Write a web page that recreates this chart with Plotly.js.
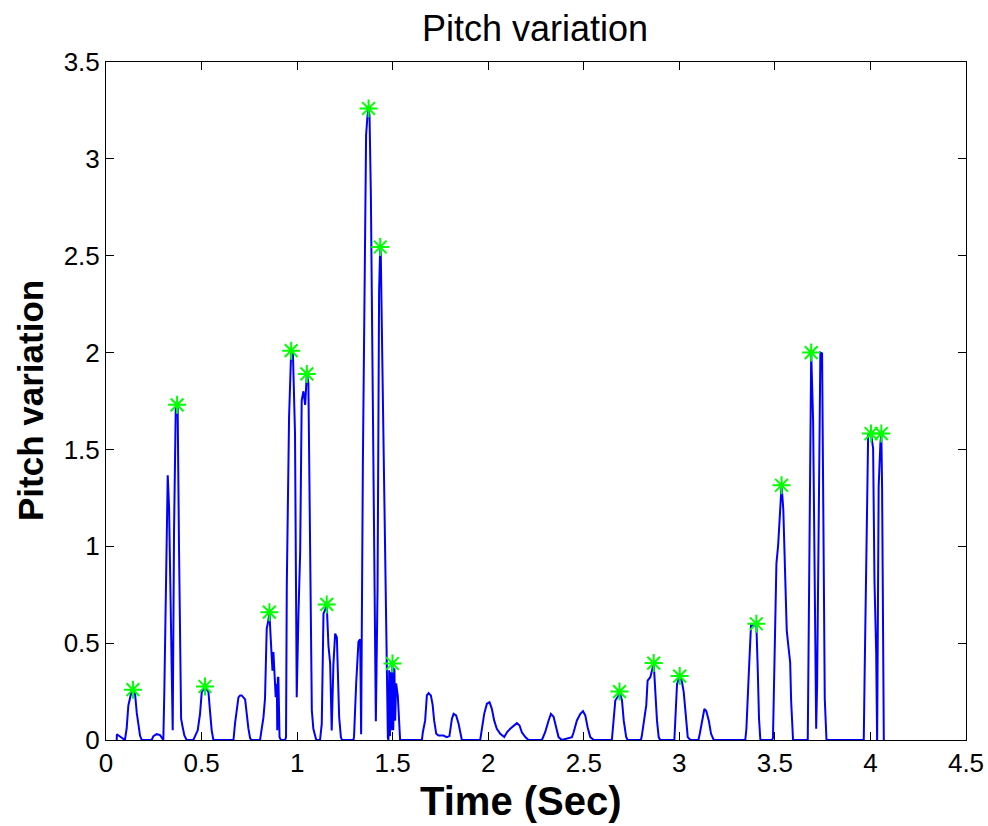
<!DOCTYPE html>
<html>
<head>
<meta charset="utf-8">
<script src="https://cdn.plot.ly/plotly-3.0.1.min.js"></script>
<style>html,body{margin:0;padding:0;background:#fff;}#chart{width:988px;height:826px;}</style>
</head>
<body>
<div id="chart"></div>
<script>
// Pitch variation signal (time in seconds, value)
var timeSec = [
  0.056,0.057,0.099,0.108,0.117,0.131,0.141,0.152,0.161,0.169,0.178,0.187,0.239,0.248,0.265,0.283,0.300,
  0.305,0.314,0.323,0.330,0.335,0.344,0.349,0.356,0.365,0.372,0.375,0.382,0.393,0.401,0.410,0.422,
  0.457,0.466,0.480,0.492,0.501,0.518,0.536,0.544,0.553,0.562,
  0.667,0.675,0.693,0.702,0.710,0.728,0.736,0.745,0.754,0.760,
  0.806,0.815,0.824,0.832,0.841,0.850,0.855,0.862,0.871,0.876,0.881,0.888,0.894,0.896,0.899,0.902,0.908,0.915,
  0.937,0.942,0.946,0.958,0.969,0.978,0.989,0.998,1.007,1.016,1.024,1.033,1.042,1.051,1.059,1.068,1.077,1.085,1.094,1.100,
  1.120,1.129,1.138,1.146,1.155,1.164,1.173,1.181,1.190,1.199,1.208,1.213,1.220,1.229,1.235,
  1.295,1.298,1.309,1.321,1.330,1.335,1.344,1.352,1.361,1.368,1.374,1.379,1.386,1.394,1.403,1.412,1.421,1.429,1.435,1.438,1.447,1.457,1.466,1.475,
  1.478,1.482,1.486,1.490,1.494,1.499,1.503,1.509,1.513,1.518,1.527,1.534,1.539,
  1.653,1.658,1.670,1.679,1.688,1.700,1.709,1.717,1.728,1.740,1.766,1.783,1.797,1.801,1.810,1.819,1.832,1.845,1.857,1.862,
  1.958,1.967,1.979,1.993,2.007,2.019,2.031,2.045,2.063,2.084,2.098,2.115,2.133,2.150,2.164,2.176,2.194,2.211,
  2.281,2.298,2.316,2.328,2.342,2.354,2.368,2.385,2.438,2.447,2.464,2.482,2.496,2.508,2.520,2.534,2.552,
  2.647,2.656,2.665,2.682,2.687,2.700,2.709,2.722,2.730,
  2.799,2.804,2.813,2.827,2.834,2.848,2.857,2.866,2.874,2.883,2.892,2.900,
  2.974,2.979,2.988,3.002,3.014,3.023,3.035,3.044,3.058,
  3.100,3.107,3.118,3.131,3.141,3.154,3.166,3.180,
  3.345,3.351,3.363,3.375,3.394,3.403,3.410,3.417,3.424,
  3.485,3.490,3.499,3.508,3.517,3.526,3.535,3.544,3.553,3.562,3.571,3.580,3.585,3.595,
  3.672,3.677,3.686,3.690,3.700,3.709,3.716,3.721,3.730,3.738,3.747,3.752,3.761,3.770,
  3.965,3.970,3.979,3.988,4.003,4.014,4.021,4.030,4.035,4.043,4.052,4.057,4.061,4.066,4.070
];
var pitchValue = [
  0,0.03,0,0.058,0.178,0.239,0.26,0.239,0.14,0.075,0.023,0,0,0.02,0.03,0.025,0,
  0.24,0.936,1.367,1.20,0.943,0.45,0.05,1.083,1.71,1.73,1.71,0.996,0.11,0.067,0.023,0,
  0,0.02,0.05,0.135,0.247,0.276,0.247,0.153,0.05,0,
  0,0.084,0.22,0.23,0.23,0.21,0.135,0.06,0.01,0,
  0,0.058,0.118,0.213,0.575,0.618,0.66,0.523,0.358,0.454,0.358,0.221,0.29,0.05,0.32,0.325,0.015,0,
  0,0.015,0.80,1.67,2.01,2.0,1.582,0.221,0.652,0.97,1.754,1.80,1.73,1.89,1.84,1.083,0.153,0.058,0.015,0,
  0,0.083,0.652,0.67,0.70,0.488,0.394,0.049,0.39,0.549,0.53,0.39,0.118,0.015,0,
  0,0.02,0.29,0.508,0.52,0.03,1.415,2.313,3.123,3.22,3.26,3.22,2.81,1.977,1.156,0.097,0.789,2.323,2.545,2.496,1.88,1.221,0.475,0.01,
  0,0.36,0.02,0.35,0.05,0.395,0.05,0.37,0.10,0.292,0.227,0.054,0,
  0,0.04,0.101,0.230,0.242,0.230,0.183,0.101,0.032,0.023,0.023,0.015,0.02,0.058,0.110,0.135,0.127,0.084,0.015,0,
  0,0.058,0.135,0.187,0.195,0.161,0.101,0.058,0.032,0.015,0.04,0.058,0.075,0.087,0.075,0.04,0.015,0,
  0,0.04,0.101,0.135,0.12,0.066,0.015,0,0.015,0.04,0.101,0.135,0.149,0.127,0.066,0.015,0,
  0,0.084,0.204,0.23,0.25,0.204,0.101,0.015,0,
  0,0.023,0.084,0.18,0.307,0.324,0.359,0.397,0.256,0.101,0.015,0,
  0,0.101,0.29,0.33,0.299,0.247,0.101,0.015,0,
  0,0.032,0.101,0.16,0.15,0.101,0.032,0,
  0,0.058,0.333,0.592,0.59,0.60,0.376,0.109,0,
  0,0.01,0.463,0.911,1.005,1.20,1.315,1.19,0.85,0.566,0.48,0.40,0.204,0,
  0,0.661,1.53,2.0,1.651,0.781,0.058,0.29,1.212,2.0,1.996,1.152,0.212,0,
  0,0.368,1.057,1.573,1.582,1.505,0.824,0.454,0,1.307,1.53,1.582,1.30,0.45,0
];
// Detected peaks (green stars)
var peakTime = [0.141,0.372,0.518,0.855,0.969,1.051,1.155,1.374,1.435,1.499,2.687,2.866,3.002,3.403,3.535,3.690,4.003,4.057];
var peakValue = [0.26,1.73,0.276,0.66,2.01,1.89,0.70,3.26,2.545,0.395,0.25,0.397,0.33,0.60,1.315,2.00,1.582,1.582];

var titleText = 'Pitch variation';
var xLabel = 'Time (Sec)';
var yLabel = 'Pitch variation';

var tickFont = {family: '"Liberation Sans", Arial, sans-serif', size: 26, color: '#000'};

var traces = [
  {x: timeSec, y: pitchValue, type: 'scatter', mode: 'lines',
   line: {color: '#0000ff', width: 2}, hoverinfo: 'skip'},
  {x: peakTime, y: peakValue, type: 'scatter', mode: 'markers',
   marker: {symbol: 'asterisk-open', size: 15, color: '#00ff00', line: {color: '#00ff00', width: 2}},
   cliponaxis: false}
];

var axisCommon = {
  showgrid: false, zeroline: false, showline: true, linecolor: '#000', linewidth: 1,
  mirror: 'ticks', ticks: 'inside', ticklen: 8, tickwidth: 1, tickcolor: '#000',
  tickfont: tickFont, fixedrange: true
};

var layout = {
  width: 988, height: 826,
  margin: {l: 106, r: 22, t: 62, b: 86},
  paper_bgcolor: '#fff', plot_bgcolor: '#fff',
  showlegend: false,
  title: {text: titleText, x: 0.5415, xanchor: 'center', y: 1 - 28/826, yanchor: 'middle',
          font: {family: '"Liberation Sans", Arial, sans-serif', size: 36, color: '#000'}},
  xaxis: Object.assign({}, axisCommon, {range: [0, 4.5], tick0: 0, dtick: 0.5}),
  yaxis: Object.assign({}, axisCommon, {range: [0, 3.5], tick0: 0, dtick: 0.5}),
  annotations: [
    {text: xLabel, xref: 'paper', yref: 'paper', x: 0.5, y: 0, xanchor: 'center', yanchor: 'middle',
     xshift: -15, yshift: -61, showarrow: false,
     font: {family: '"Liberation Sans", Arial, sans-serif', size: 40, color: '#000', weight: 'bold'}},
    {text: yLabel, xref: 'paper', yref: 'paper', x: 0, y: 0.5, xanchor: 'center', yanchor: 'middle',
     xshift: -76, textangle: -90, showarrow: false,
     font: {family: '"Liberation Sans", Arial, sans-serif', size: 35, color: '#000', weight: 'bold'}}
  ]
};

Plotly.newPlot('chart', traces, layout, {displayModeBar: false, staticPlot: true});
</script>
</body>
</html>
